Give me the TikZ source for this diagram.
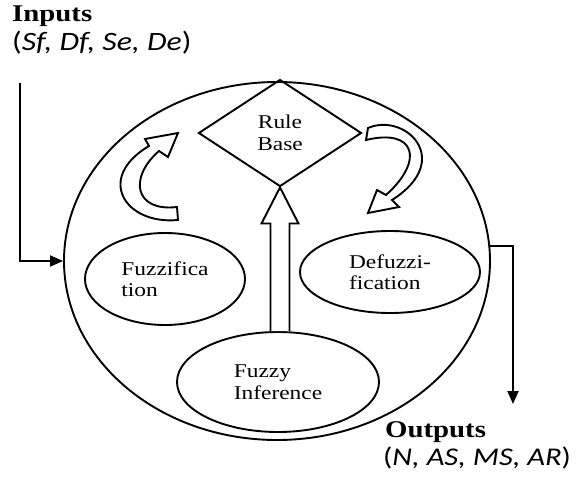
\documentclass[tikz,border=0pt]{standalone}
\usepackage{fontspec}
\setmainfont{Liberation Serif}[FakeStretch=1.2]
\newfontfamily\calib{Carlito}[FakeStretch=1.2]
\usetikzlibrary{arrows.meta,shapes.geometric,positioning,calc}

\begin{document}
\begin{tikzpicture}[x=1pt,y=-1pt,
  ring/.style={draw,ellipse,line width=1.9pt,inner sep=0pt},
  blob/.style={draw,ellipse,line width=1.9pt,align=left,inner sep=0pt,
    font=\fontsize{19.5}{21.5}\selectfont},
  hollow/.style={draw,fill=white,line width=1.9pt,line join=miter},
  feed/.style={line width=1.9pt,-{Triangle[length=13pt,width=11pt]}},
  title/.style={anchor=base west,inner sep=0pt,font=\fontsize{24}{26}\selectfont\bfseries},
  vars/.style={anchor=base west,inner sep=0pt,font=\fontsize{26.5}{30}\calib}]
\useasboundingbox (0,0) rectangle (582,477);

% the system
\node[ring,minimum width=426pt,minimum height=358pt] (sys) at (277,261) {};
\node[draw,diamond,line width=1.9pt,minimum width=163pt,minimum height=107pt,
  inner sep=0pt,align=center,font=\fontsize{19.5}{21.5}\selectfont] (rule) at (280,133) {Rule\\Base};
\node[blob,minimum width=160pt,minimum height=92pt] (fuzz) at (165,279) {Fuzzifica\\tion};
\node[blob,minimum width=180pt,minimum height=82pt] (defuzz) at (390,272) {Defuzzi-\\fication};
\node[blob,minimum width=202pt,minimum height=100pt] (infer) at (278,382) {Fuzzy\\Inference};

% inputs and outputs
\node[title] (inlab) at (12,21) {Inputs};
\node[vars] (invars) at (12,50) {(\textit{Sf, Df, Se, De})};
\node[title] (outlab) at (385,437) {Outputs};
\node[vars,font=\fontsize{25.5}{30}\calib] (outvars) at (383,465) {(\textit{N, AS, MS, AR})};

\coordinate (inlet) at (20,83);
\coordinate (outlet) at (513,404);
\draw[feed] (inlet) |- (sys.west);
\draw[feed] (sys.4) -| (outlet);

% inference up to rule base
\draw[hollow] ($(rule.south |- infer.north)+(-9.5pt,0)$) -- ($(rule.south)+(-9.5pt,-36pt)$)
  -- ($(rule.south)+(-18.5pt,-36pt)$) -- (rule.south) -- ($(rule.south)+(18.5pt,-36pt)$)
  -- ($(rule.south)+(9.5pt,-36pt)$) -- ($(rule.south |- infer.north)+(9.5pt,0)$);

% curved arrows
\draw[hollow] (178,220) .. controls (125,225) and (95,178) .. (149,146) -- (145,139) -- (178,133)
  -- (168,157) -- (159,151) .. controls (128,178) and (135,212) .. (177,207) -- cycle;
\draw[hollow] (366,140) -- (368,128) .. controls (405,112) and (455,160) .. (392,200) -- (399,207)
  -- (368,213) -- (377,190) -- (386,195) .. controls (425,160) and (415,128) .. (366,140) -- cycle;
\end{tikzpicture}
\end{document}
